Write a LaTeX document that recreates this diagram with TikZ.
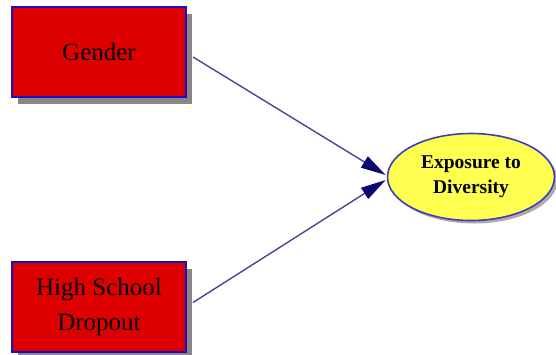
\documentclass[tikz,border=0pt]{standalone}
\usepackage{fontspec}
\setmainfont{Liberation Serif}
\usetikzlibrary{shapes.geometric,shadows,arrows.meta}

\definecolor{boxred}{RGB}{222,0,0}
\definecolor{boxblue}{RGB}{24,16,200}
\definecolor{shadowgrey}{RGB}{142,132,132}
\definecolor{ovalyellow}{RGB}{255,255,80}
\definecolor{ovalblue}{RGB}{60,60,190}
\definecolor{linkblue}{RGB}{70,70,150}
\definecolor{headblue}{RGB}{10,10,110}

\tikzset{
  factor/.style={draw=boxblue, line width=2pt, fill=boxred,
    minimum width=174pt, minimum height=90pt, inner sep=0pt,
    align=center, font=\fontsize{25}{35}\selectfont,
    drop shadow={shadow xshift=6pt, shadow yshift=-7pt, fill=shadowgrey, opacity=1}},
  outcome/.style={ellipse, draw=ovalblue, line width=1.6pt, fill=ovalyellow,
    minimum width=167pt, minimum height=87pt, inner sep=0pt,
    align=center, font=\fontsize{19.5}{25}\selectfont\bfseries,
    drop shadow={shadow xshift=3pt, shadow yshift=-3pt, fill=shadowgrey, opacity=0.7}},
  link/.style={draw=linkblue, line width=1.4pt,
    -{Triangle[length=25pt, width=13pt, fill=headblue, color=headblue]}}
}

\begin{document}
\begin{tikzpicture}[x=1pt, y=-1pt]
  \useasboundingbox (0,0) rectangle (556,354);

  % two predictors on the left
  \node[factor] (gender)  at (99,52)    {Gender};
  \node[factor] (dropout) at (99,306.5) {High School\\Dropout};

  % outcome on the right
  \node[outcome] (exposure) at (471,177) {Exposure to\\Diversity};

  % paths into the outcome
  \draw[link] ([xshift=6pt, yshift=-5pt]gender.east)  -- ([xshift=-1pt, yshift=2pt]exposure.west);
  \draw[link] ([xshift=6pt, yshift=4pt]dropout.east) -- ([xshift=-1pt, yshift=-3pt]exposure.west);
\end{tikzpicture}
\end{document}
